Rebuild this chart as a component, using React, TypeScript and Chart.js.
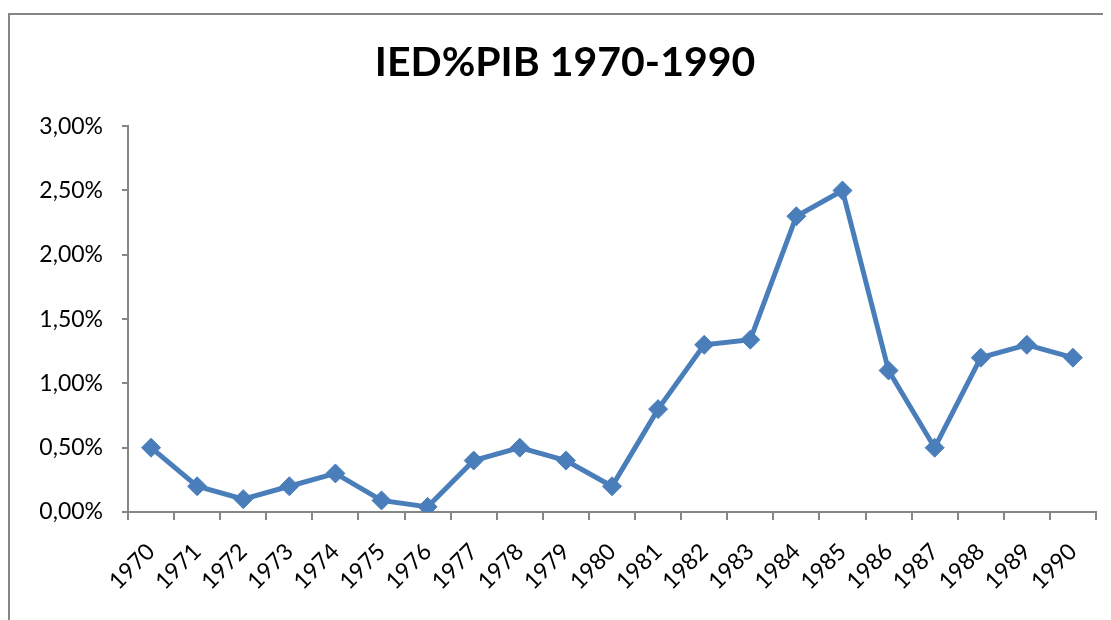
import React, { useEffect, useRef } from "react";
import { Chart, registerables } from "chart.js";

Chart.register(...registerables);

const years = ["1970","1971","1972","1973","1974","1975","1976","1977","1978","1979","1980","1981","1982","1983","1984","1985","1986","1987","1988","1989","1990"];
const iedPib = [0.005,0.002,0.001,0.002,0.003,0.0009,0.0004,0.004,0.005,0.004,0.002,0.008,0.013,0.0134,0.023,0.025,0.011,0.005,0.012,0.013,0.012];
const chartTitle = "IED%PIB 1970-1990";

const AXIS = "#868686";
const LINE = "#4A7EBB";

const frame = {
  id: "frame",
  beforeDraw(chart: any) {
    const ctx = chart.ctx;
    ctx.save();
    ctx.strokeStyle = AXIS;
    ctx.lineWidth = 2;
    ctx.beginPath();
    ctx.moveTo(1, chart.height + 2);
    ctx.lineTo(1, 6);
    ctx.lineTo(chart.width + 2, 6);
    ctx.stroke();
    ctx.restore();
  },
};

export default function App() {
  const ref = useRef<HTMLCanvasElement>(null);
  useEffect(() => {
    const chart = new Chart(ref.current!, {
      type: "line",
      data: {
        labels: years,
        datasets: [
          {
            data: iedPib,
            borderColor: LINE,
            backgroundColor: LINE,
            borderWidth: 5,
            pointStyle: "rectRot",
            pointRadius: 9.5,
            pointBorderWidth: 1,
            pointBackgroundColor: LINE,
            pointBorderColor: LINE,
            tension: 0,
          },
        ],
      },
      options: {
        responsive: false,
        animation: false,
        layout: { padding: { left: 11, right: 0, top: 0, bottom: 0 } },
        plugins: {
          legend: { display: false },
          tooltip: { enabled: false },
          title: {
            display: true,
            text: chartTitle,
            color: "#000",
            font: { family: "Lato", size: 41, weight: "bold", lineHeight: 1.2 },
            padding: { top: 30, bottom: 39 },
          },
        },
        scales: {
          x: {
            offset: true,
            grid: { offset: true, drawOnChartArea: false, color: AXIS, tickLength: 8, lineWidth: 2 },
            border: { color: AXIS, width: 2 },
            ticks: {
              color: "#000",
              font: { family: "Lato", size: 23 },
              maxRotation: 45,
              minRotation: 45,
              autoSkip: false,
              padding: 18,
            },
            afterFit(scale: any) {
              scale.height = 108;
            },
          },
          y: {
            min: 0,
            max: 0.03,
            grid: { drawOnChartArea: false, color: AXIS, tickLength: 6, lineWidth: 2 },
            border: { color: AXIS, width: 2 },
            ticks: {
              stepSize: 0.005,
              color: "#000",
              font: { family: "Lato", size: 23 },
              padding: 19,
              callback: (v: any) => (Number(v) * 100).toFixed(2).replace(".", ",") + "%",
            },
            afterFit(scale: any) {
              scale.width = 109;
            },
          },
          spacer: {
            type: "linear",
            position: "right",
            display: true,
            grid: { display: false, drawTicks: false },
            border: { display: false },
            ticks: { display: false },
            afterFit(scale: any) {
              scale.width = 15;
            },
          },
        },
      },
      plugins: [frame],
    });
    return () => chart.destroy();
  }, []);
  return <canvas ref={ref} width={1103} height={612} style={{ display: "block" }} />;
}
